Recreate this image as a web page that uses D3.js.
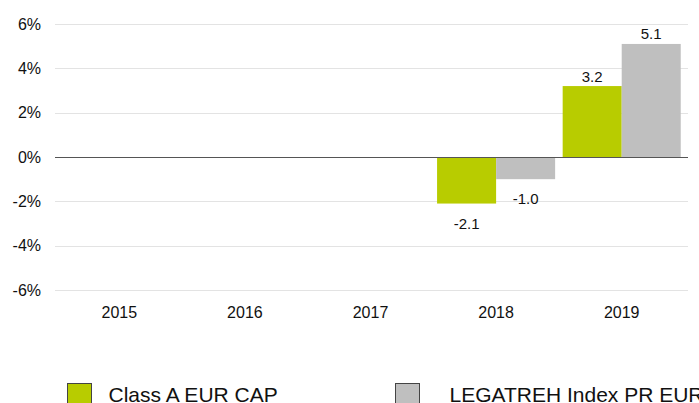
<!DOCTYPE html>
<html>
<head>
<meta charset="utf-8">
<script src="https://cdn.jsdelivr.net/npm/d3@7"></script>
<style>
  body { margin: 0; background: #fff; }
  svg text { font-family: "Liberation Sans", Arial, Helvetica, sans-serif; fill: #111; }
</style>
</head>
<body>
<div id="container"></div>
<script>
var years = ["2015", "2016", "2017", "2018", "2019"]
var seriesNames = ["Class A EUR CAP", "LEGATREH Index PR EUR"]
var classA = [null, null, null, -2.1, 3.2]
var indexPR = [null, null, null, -1.0, 5.1]
var yTicks = [-6, -4, -2, 0, 2, 4, 6]
var colors = ["#b8cc00", "#bfbfbf"]

var width = 699, height = 403

var svg = d3.select("#container").append("svg")
  .attr("width", width)
  .attr("height", height)

var x = d3.scaleBand()
  .domain(years)
  .range([56.5, 684.5])
  .paddingInner(0.06)
  .paddingOuter(0.03)

var xInner = d3.scaleBand()
  .domain([0, 1])
  .range([0, x.bandwidth()])

var y = d3.scaleLinear()
  .domain([-6, 6])
  .range([290, 24])

// grid lines
svg.selectAll(".grid")
  .data(yTicks)
  .enter().append("line")
    .attr("class", "grid")
    .attr("x1", 55)
    .attr("x2", 688)
    .attr("y1", d => Math.round(y(d)) + 0.5)
    .attr("y2", d => Math.round(y(d)) + 0.5)
    .attr("stroke", "#e3e3e3")
    .attr("stroke-width", 1)

// y labels
svg.selectAll(".ylab")
  .data(yTicks)
  .enter().append("text")
    .attr("class", "ylab")
    .attr("x", 41)
    .attr("y", d => y(d))
    .attr("dy", "0.35em")
    .attr("text-anchor", "end")
    .attr("font-size", "16px")
    .text(d => d + "%")

// x labels
svg.selectAll(".xlab")
  .data(years)
  .enter().append("text")
    .attr("class", "xlab")
    .attr("x", d => x(d) + x.bandwidth() / 2)
    .attr("y", 318)
    .attr("text-anchor", "middle")
    .attr("font-size", "16px")
    .text(d => d)

// bars
var rows = []
years.forEach(function (yr, i) {
  [classA[i], indexPR[i]].forEach(function (v, s) {
    if (v !== null) rows.push({ year: yr, s: s, v: v })
  })
})

svg.selectAll(".bar")
  .data(rows)
  .enter().append("rect")
    .attr("class", "bar")
    .attr("x", d => x(d.year) + xInner(d.s))
    .attr("width", xInner.bandwidth())
    .attr("y", d => y(Math.max(0, d.v)))
    .attr("height", d => Math.abs(y(d.v) - y(0)))
    .attr("fill", d => colors[d.s])

svg.selectAll(".val")
  .data(rows)
  .enter().append("text")
    .attr("class", "val")
    .attr("x", d => x(d.year) + xInner(d.s) + xInner.bandwidth() / 2)
    .attr("y", d => d.v >= 0 ? y(d.v) - 4.5 : y(d.v) + 25)
    .attr("text-anchor", "middle")
    .attr("font-size", "15px")
    .text(d => d.v.toFixed(1))

// zero line
svg.append("line")
  .attr("x1", 55)
  .attr("x2", 688)
  .attr("y1", Math.round(y(0)) + 0.5)
  .attr("y2", Math.round(y(0)) + 0.5)
  .attr("stroke", "#555")
  .attr("stroke-width", 1)

// legend
var legendX = [67.5, 395.5]
var legend = svg.selectAll(".legend")
  .data(seriesNames)
  .enter().append("g")
    .attr("class", "legend")
    .attr("transform", (d, i) => "translate(" + legendX[i] + ",383.5)")

legend.append("rect")
  .attr("width", 24)
  .attr("height", 24)
  .attr("fill", (d, i) => colors[i])
  .attr("stroke", "#444")
  .attr("stroke-width", 1)

legend.append("text")
  .attr("x", (d, i) => i == 0 ? 41 : 54)
  .attr("y", 18)
  .attr("font-size", "21px")
  .text(d => d)
</script>
</body>
</html>
